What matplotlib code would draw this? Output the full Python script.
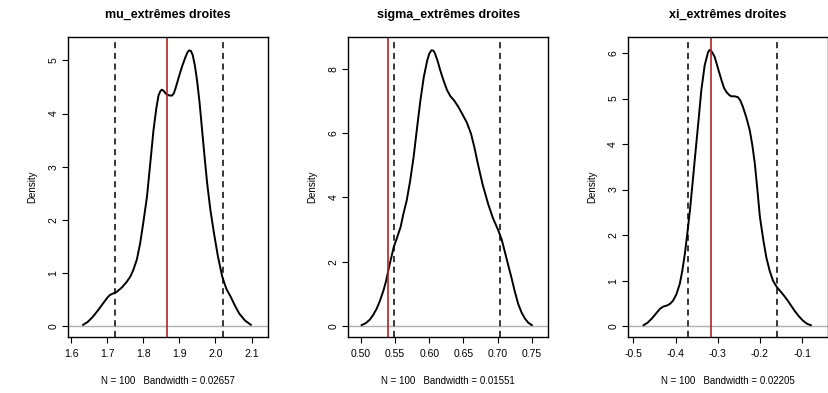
import matplotlib.pyplot as plt

plt.rcParams['font.family'] = ['Liberation Sans', 'DejaVu Sans']

# density curves
mu_x = [1.633, 1.645, 1.660, 1.675, 1.688, 1.700, 1.707, 1.716, 1.726, 1.740, 1.754, 1.764,
        1.772, 1.782, 1.791, 1.800, 1.810, 1.819, 1.828, 1.836, 1.842, 1.847, 1.851, 1.856,
        1.863, 1.872, 1.880, 1.885, 1.889, 1.898, 1.907, 1.916, 1.922, 1.927, 1.932, 1.937,
        1.943, 1.949, 1.956, 1.963, 1.970, 1.977, 1.986, 1.996, 2.007, 2.019, 2.030, 2.042,
        2.054, 2.066, 2.082, 2.098]
mu_y = [0.02, 0.07, 0.17, 0.30, 0.42, 0.53, 0.58, 0.61, 0.64, 0.72, 0.83, 0.93,
        1.05, 1.25, 1.55, 1.95, 2.43, 3.05, 3.68, 4.10, 4.34, 4.42, 4.45, 4.43,
        4.37, 4.34, 4.34, 4.39, 4.47, 4.68, 4.88, 5.05, 5.15, 5.19, 5.18, 5.10,
        4.90, 4.62, 4.20, 3.68, 3.17, 2.68, 2.18, 1.74, 1.30, 0.92, 0.70, 0.55,
        0.38, 0.23, 0.10, 0.02]

sigma_x = [0.501, 0.507, 0.513, 0.518, 0.523, 0.528, 0.533, 0.537, 0.540, 0.544, 0.548, 0.553,
           0.558, 0.562, 0.567, 0.572, 0.577, 0.582, 0.587, 0.592, 0.597, 0.600, 0.603, 0.606,
           0.608, 0.612, 0.616, 0.621, 0.626, 0.631, 0.636, 0.642, 0.648, 0.655, 0.661, 0.666,
           0.671, 0.678, 0.686, 0.693, 0.701, 0.706, 0.710, 0.715, 0.720, 0.725, 0.730, 0.735,
           0.740, 0.745, 0.750]
sigma_y = [0.03, 0.09, 0.20, 0.35, 0.54, 0.80, 1.11, 1.42, 1.73, 2.10, 2.46, 2.76,
           3.08, 3.48, 3.91, 4.52, 5.25, 6.15, 7.02, 7.75, 8.26, 8.47, 8.57, 8.56,
           8.49, 8.25, 7.95, 7.62, 7.33, 7.14, 7.02, 6.83, 6.60, 6.32, 5.98, 5.55,
           5.05, 4.40, 3.80, 3.36, 2.97, 2.68, 2.35, 1.93, 1.52, 1.08, 0.69, 0.42,
           0.23, 0.10, 0.03]

xi_x = [-0.476, -0.467, -0.457, -0.447, -0.437, -0.429, -0.421, -0.413, -0.406, -0.398,
        -0.390, -0.384, -0.378, -0.372, -0.366, -0.360, -0.354, -0.346, -0.339, -0.331,
        -0.323, -0.319, -0.315, -0.311, -0.307, -0.299, -0.291, -0.285, -0.279, -0.273,
        -0.268, -0.260, -0.252, -0.246, -0.240, -0.232, -0.224, -0.218, -0.212, -0.206,
        -0.200, -0.192, -0.185, -0.177, -0.169, -0.160, -0.150, -0.142, -0.134, -0.126,
        -0.118, -0.108, -0.098, -0.088, -0.079]
xi_y = [0.02, 0.07, 0.16, 0.27, 0.38, 0.43, 0.45, 0.49, 0.56, 0.70,
        0.93, 1.22, 1.59, 2.05, 2.54, 3.12, 3.71, 4.48, 5.18, 5.73,
        6.02, 6.07, 6.04, 5.98, 5.91, 5.65, 5.40, 5.23, 5.14, 5.08,
        5.05, 5.05, 5.03, 4.95, 4.81, 4.58, 4.30, 3.98, 3.57, 3.00,
        2.40, 1.90, 1.52, 1.22, 1.00, 0.86, 0.75, 0.66, 0.56, 0.45,
        0.34, 0.22, 0.12, 0.05, 0.02]

titles = ['mu_extrêmes droites', 'sigma_extrêmes droites', 'xi_extrêmes droites']
bandwidths = ['0.02657', '0.01551', '0.02205']
ci_low = [1.721, 0.5477, -0.370]
ci_high = [2.020, 0.7033, -0.159]
estimates = [1.865, 0.5393, -0.315]

xticks = [[1.6, 1.7, 1.8, 1.9, 2.0, 2.1],
          [0.50, 0.55, 0.60, 0.65, 0.70, 0.75],
          [-0.5, -0.4, -0.3, -0.2, -0.1]]
xticklabels = [['1.6', '1.7', '1.8', '1.9', '2.0', '2.1'],
               ['0.50', '0.55', '0.60', '0.65', '0.70', '0.75'],
               ['-0.5', '-0.4', '-0.3', '-0.2', '-0.1']]
yticks = [[0, 1, 2, 3, 4, 5], [0, 2, 4, 6, 8], [0, 1, 2, 3, 4, 5, 6]]
xlims = [(1.591, 2.145), (0.4813, 0.7736), (-0.513, -0.039)]
ylims = [(-0.21, 5.44), (-0.34, 8.98), (-0.24, 6.35)]

curves = [(mu_x, mu_y), (sigma_x, sigma_y), (xi_x, xi_y)]
lefts = [0.082, 0.420, 0.7575]

fig = plt.figure(figsize=(8.29, 3.93), dpi=100)

for i in range(3):
    ax = fig.add_axes([lefts[i], 0.1425, 0.241, 0.763])
    x, y = curves[i]
    ax.axhline(0, color='#b0b0b0', lw=1)
    ax.plot(x, y, color='black', lw=1.4, solid_joinstyle='round')
    ax.axvline(ci_low[i], color='black', lw=1.1, ls=(0, (4, 3)))
    ax.axvline(ci_high[i], color='black', lw=1.1, ls=(0, (4, 3)))
    ax.axvline(estimates[i], color='#b22222', lw=1.2)
    ax.set_xlim(*xlims[i])
    ax.set_ylim(*ylims[i])
    ax.set_xticks(xticks[i])
    ax.set_xticklabels(xticklabels[i], fontsize=7.5)
    ax.set_yticks(yticks[i])
    ax.set_yticklabels([str(v) for v in yticks[i]], fontsize=7.5, rotation=90, va='center')
    ax.tick_params(length=4, width=0.8, pad=3)
    ax.tick_params(axis='x', pad=5)
    for s in ax.spines.values():
        s.set_linewidth(1)
    ax.set_title(titles[i], fontsize=9, fontweight='bold', pad=14)
    ax.set_ylabel('Density', fontsize=7, labelpad=8)
    ax.set_xlabel('N = 100   Bandwidth = ' + bandwidths[i], fontsize=7, labelpad=12)

fig.savefig('out.png', dpi=100)
